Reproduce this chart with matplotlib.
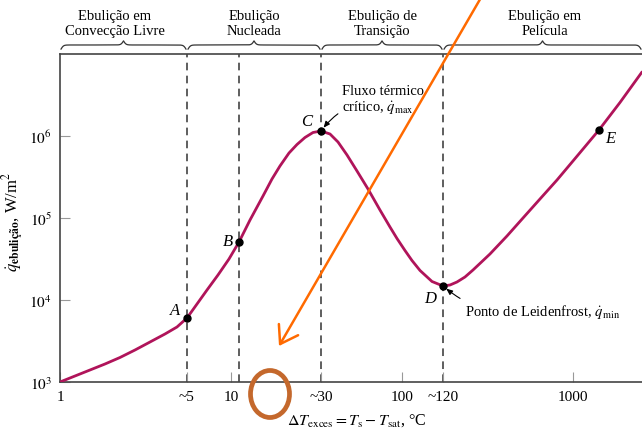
import numpy as np
import matplotlib
matplotlib.use("Agg")
import matplotlib.pyplot as plt
from matplotlib.transforms import blended_transform_factory
from matplotlib.patches import Ellipse

plt.rcParams['font.family'] = ['Liberation Serif', 'DejaVu Serif']
plt.rcParams['mathtext.fontset'] = 'stix'

# ---- data ----
delta_T = [1.0, 1.224, 1.498, 1.833, 2.243, 2.746, 3.360, 4.112, 4.833, 5.530,
           6.327, 7.239, 8.394, 9.734, 11.14,
           12.92, 15.39, 17.37, 19.34, 21.84, 24.32, 27.08, 30.17, 33.60,
           37.93, 42.24, 47.70, 54.56, 63.28, 74.34, 85.08, 93.50, 104.1, 114.4,
           127.5, 149.8, 173.8,
           190.9, 209.7, 233.6, 260.2, 327.0, 411.2, 510.2, 641.2, 806.3, 1000,
           1191, 1419, 1883, 2533]
q_flux = [1000, 1184, 1401, 1658, 1990, 2456, 3074, 3850, 4687, 6033,
          8937, 13240, 20180, 31620, 50970,
          94540, 185500, 298900, 430700, 620300, 787700, 958800, 1.103e6, 1.151e6,
          1.058e6, 845000, 586700, 374300, 225800, 125200, 77670, 56230, 40160, 30320,
          22900, 16810, 14820,
          15240, 16580, 19080, 23220, 36390, 60330, 100000, 170500, 290600, 495700,
          765800, 1.184e6, 2.562e6, 6.033e6]

point_names = ['A', 'B', 'C', 'D', 'E']
point_x = [5.53, 11.14, 33.6, 173.8, 1419]
point_y = [6033, 50970, 1.151e6, 14820, 1.184e6]

regime_bounds = [1.0, 5.53, 33.6, 173.8, 2533]
regime_labels = ['Ebulição em\nConvecção Livre', 'Ebulição\nNucleada',
                 'Ebulição de\nTransição', 'Ebulição em\nPelícula']

dashed_x = [5.53, 11.14, 33.6, 173.8]

xtick_vals = [1, 5.53, 10, 33.6, 100, 173.8, 1000]
xtick_labels = ['1', '~5', '10', '~30', '100', '~120', '1000']
ytick_vals = [1e3, 1e4, 1e5, 1e6]
ytick_labels = [r'$10^3$', r'$10^4$', r'$10^5$', r'$10^6$']

xlim = (1.0, 2533)
ylim = (1e3, 1e7)

curve_color = '#b0145a'

fig = plt.figure(figsize=(6.42, 4.31), dpi=100)
ax = fig.add_axes([60/642, 48/431, 582/642, 328/431])
ax.set_xscale('log')
ax.set_yscale('log')
ax.set_xlim(*xlim)
ax.set_ylim(*ylim)

for xv in dashed_x:
    ax.axvline(xv, color='#333333', lw=1.1, ls=(0, (5, 3.5)), zorder=1)

ax.plot(delta_T, q_flux, color=curve_color, lw=2.0, zorder=3,
        solid_capstyle='round', solid_joinstyle='round')
ax.plot(point_x, point_y, 'o', color='black', ms=5, zorder=4)

# point labels
offsets = {'A': (-9, 6), 'B': (-8, 1), 'C': (-10, 7), 'D': (-9, -9), 'E': (8, -6)}
for n, xv, yv in zip(point_names, point_x, point_y):
    dx, dy = offsets[n]
    ax.annotate(n, (xv, yv), xytext=(dx, dy), textcoords='offset points',
                ha='center', va='center', fontsize=12, style='italic')

# callouts
ax.annotate('Fluxo térmico\ncrítico, $\\dot{q}_{\\rm max}$', xy=(33.6, 1.151e6),
            xytext=(15, 11), textcoords='offset points', ha='left', va='bottom',
            fontsize=10.5, linespacing=1.15,
            arrowprops=dict(arrowstyle='-|>,head_length=0.35,head_width=0.15',
                            color='black', lw=0.8,
                            connectionstyle='arc3,rad=0.25', shrinkA=1, shrinkB=3))
ax.annotate('Ponto de Leidenfrost, $\\dot{q}_{\\rm min}$', xy=(173.8, 14820),
            xytext=(16, -18), textcoords='offset points', ha='left', va='center',
            fontsize=10.5,
            arrowprops=dict(arrowstyle='-|>,head_length=0.35,head_width=0.15',
                            color='black', lw=0.8,
                            connectionstyle='arc3,rad=-0.25', shrinkA=2, shrinkB=3))

# axes styling
for s in ['left', 'bottom', 'top']:
    ax.spines[s].set_color('#444444')
    ax.spines[s].set_linewidth(1.2)
ax.spines['right'].set_visible(False)
ax.set_xticks(xtick_vals)
ax.set_xticklabels(xtick_labels)
ax.set_yticks(ytick_vals)
ax.set_yticklabels(ytick_labels)
ax.minorticks_off()
ax.tick_params(axis='both', direction='in', length=7, width=0.8, color='#999999',
               labelsize=11, pad=6)

ax.set_xlabel(r'$\Delta T_{\rm exces} = T_{\rm s} - T_{\rm sat}$, °C', fontsize=11.5)
ax.xaxis.set_label_coords(0.51, -0.088)
ax.set_ylabel(r'$\dot{q}_{\mathbf{ebulição}}$, W/m$^2$', fontsize=12)
ax.yaxis.set_label_coords(-0.056, 0.49)

# braces and regime labels
trans = blended_transform_factory(ax.transData, ax.transAxes)
lx0, lx1 = np.log10(xlim[0]), np.log10(xlim[1])
label_shift = [-9, 0, 0, 2]
for i in range(len(regime_bounds) - 1):
    a, b = np.log10(regime_bounds[i]), np.log10(regime_bounds[i + 1])
    span_px = (b - a) / (lx1 - lx0) * 582
    beta = 0.8 * span_px
    t = np.linspace(0, 0.5, 200)
    v = 1 / (1 + np.exp(-beta * t)) + 1 / (1 + np.exp(-beta * (t - 0.5)))
    v = np.concatenate([v, v[-2::-1]])
    tt = np.linspace(0, 1, len(v))
    xs = 10 ** (a + 0.006 + tt * (b - a - 0.012))
    ys = 1.015 + (v - 0.5) * 0.025
    ax.plot(xs, ys, color='#333333', lw=0.9, transform=trans, clip_on=False)
    xc = 10 ** ((a + b) / 2)
    ax.annotate(regime_labels[i], (xc, 1.093), xycoords=trans,
                xytext=(label_shift[i], 0), textcoords='offset pixels',
                ha='center', va='center', fontsize=10.5, linespacing=1.2,
                annotation_clip=False)

# overlay annotations (orange arrow and circle)
fig.patches.append(Ellipse((270/642, (431-395)/431), 39/642, 47/431,
                           transform=fig.transFigure, fill=False,
                           edgecolor='#c4682c', lw=3.4, zorder=10))
ax.annotate('', xy=(279/642, (431-347)/431), xycoords='figure fraction',
            xytext=(486/642, (431+10)/431), textcoords='figure fraction',
            arrowprops=dict(arrowstyle='->,head_length=0.6,head_width=0.4',
                            color='#ff6a00', lw=1.8, mutation_scale=20,
                            shrinkA=0, shrinkB=0),
            annotation_clip=False, zorder=11)

fig.savefig('out.png', dpi=100)
